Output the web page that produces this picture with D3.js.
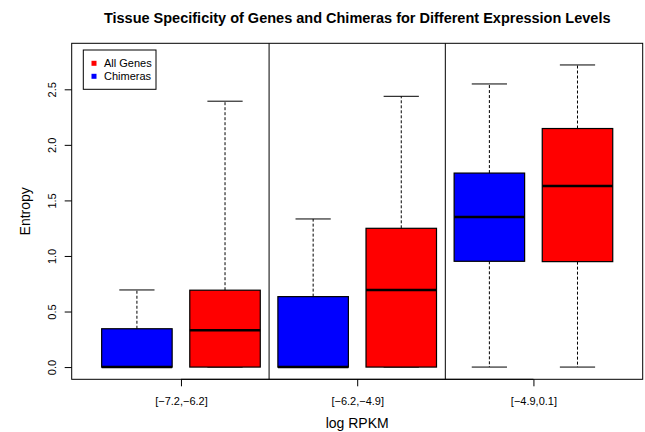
<!DOCTYPE html>
<html>
<head>
<meta charset="utf-8">
<script src="https://cdn.jsdelivr.net/npm/d3@7"></script>
<style>
body { margin: 0; background: #fff; }
text { font-family: "Liberation Sans", Arial, Helvetica, sans-serif; fill: #000; }
</style>
</head>
<body>
<script>
// data
let groups = ["[\u22127.2,\u22126.2]", "[\u22126.2,\u22124.9]", "[\u22124.9,0.1]"]
let seriesNames = ["All Genes", "Chimeras"]
let seriesColors = ["#ff0000", "#0000ff"]
// [lower whisker, q1, median, q3, upper whisker]
let chimeras = [[0, 0, 0, 0.345, 0.694], [0, 0, 0, 0.634, 1.333], [0, 0.952, 1.350, 1.746, 2.548]]
let allGenes = [[0, 0, 0.332, 0.692, 2.393], [0, 0, 0.694, 1.249, 2.437], [0, 0.949, 1.629, 2.147, 2.719]]
let yTicks = [0, 0.5, 1.0, 1.5, 2.0, 2.5]

let w = 645, h = 432
let pLeft = 71.7, pRight = 642.7, pTop = 43.3, pBottom = 379.3

let svg = d3.select("body").append("svg").attr("width", w).attr("height", h)

let xScale = d3.scaleLinear().domain([0.26, 6.74]).range([pLeft, pRight])
let yScale = d3.scaleLinear().domain([-0.11, 2.914]).range([pBottom, pTop])

// boxes: chimeras at odd positions, all genes at even ones
let boxes = []
groups.forEach((g, i) => {
    boxes.push({pos: 2 * i + 1, s: chimeras[i], color: seriesColors[1]})
    boxes.push({pos: 2 * i + 2, s: allGenes[i], color: seriesColors[0]})
})
let bw = 0.8

let bx = svg.selectAll("g.box").data(boxes).enter().append("g").attr("class", "box")
bx.append("line")
    .attr("x1", d => xScale(d.pos)).attr("x2", d => xScale(d.pos))
    .attr("y1", d => yScale(d.s[3])).attr("y2", d => yScale(d.s[4]))
    .attr("stroke", "#000").attr("stroke-dasharray", "3,2")
bx.append("line")
    .attr("x1", d => xScale(d.pos)).attr("x2", d => xScale(d.pos))
    .attr("y1", d => yScale(d.s[1])).attr("y2", d => yScale(d.s[0]))
    .attr("stroke", "#000").attr("stroke-dasharray", "3,2")
bx.selectAll("line.cap").data(d => [d.s[0], d.s[4]].map(v => ({pos: d.pos, v: v})))
    .enter().append("line").attr("class", "cap")
    .attr("x1", d => xScale(d.pos - bw / 4)).attr("x2", d => xScale(d.pos + bw / 4))
    .attr("y1", d => yScale(d.v)).attr("y2", d => yScale(d.v))
    .attr("stroke", "#000")
bx.append("rect")
    .attr("x", d => xScale(d.pos - bw / 2))
    .attr("y", d => yScale(d.s[3]))
    .attr("width", d => xScale(d.pos + bw / 2) - xScale(d.pos - bw / 2))
    .attr("height", d => yScale(d.s[1]) - yScale(d.s[3]))
    .attr("fill", d => d.color).attr("stroke", "#000").attr("stroke-width", 1.2)
bx.append("line")
    .attr("x1", d => xScale(d.pos - bw / 2)).attr("x2", d => xScale(d.pos + bw / 2))
    .attr("y1", d => yScale(d.s[2])).attr("y2", d => yScale(d.s[2]))
    .attr("stroke", "#000").attr("stroke-width", 2.5)

// group separators
svg.selectAll("line.sep").data([2.5, 4.5]).enter().append("line").attr("class", "sep")
    .attr("x1", d => xScale(d)).attr("x2", d => xScale(d))
    .attr("y1", pTop).attr("y2", pBottom).attr("stroke", "#000")

// plot frame
svg.append("rect").attr("x", pLeft).attr("y", pTop)
    .attr("width", pRight - pLeft).attr("height", pBottom - pTop)
    .attr("fill", "none").attr("stroke", "#000")

// y axis
let yAxis = d3.axisLeft(yScale).tickValues(yTicks).tickSizeOuter(0).tickSize(7).tickFormat(d3.format(".1f"))
let gy = svg.append("g").attr("transform", `translate(${pLeft},0)`).call(yAxis)
gy.select(".domain").remove()
gy.selectAll(".tick text").attr("x", 0).attr("y", 0).attr("dy", 0)
    .attr("transform", "translate(-16,0) rotate(-90)").attr("text-anchor", "middle")
    .style("font-size", "11px").style("font-family", "Liberation Sans, Arial, sans-serif")

// x axis
let xAxis = d3.axisBottom(xScale).tickValues([1.5, 3.5, 5.5]).tickSizeOuter(0).tickSize(7)
    .tickFormat((d, i) => groups[i])
let gx = svg.append("g").attr("transform", `translate(0,${pBottom})`).call(xAxis)
gx.select(".domain").attr("d", `M${xScale(1.5)},0H${xScale(5.5)}`)
gx.selectAll(".tick text").attr("y", 0).attr("dy", 0)
    .attr("transform", "translate(0,26)")
    .style("font-size", "11px").style("font-family", "Liberation Sans, Arial, sans-serif")

// titles
svg.append("text").attr("x", (pLeft + pRight) / 2).attr("y", 22.5).attr("text-anchor", "middle")
    .style("font-size", "14.5px").style("font-weight", "bold")
    .text("Tissue Specificity of Genes and Chimeras for Different Expression Levels")
svg.append("text").attr("x", (pLeft + pRight) / 2).attr("y", 428).attr("text-anchor", "middle")
    .style("font-size", "14px").text("log RPKM")
svg.append("text").attr("transform", `translate(29.5,${(pTop + pBottom) / 2}) rotate(-90)`)
    .attr("text-anchor", "middle").style("font-size", "14px").text("Entropy")

// legend
let lg = svg.append("g")
lg.append("rect").attr("x", 83.3).attr("y", 50).attr("width", 72.7).attr("height", 39.3)
    .attr("fill", "#fff").attr("stroke", "#000")
let items = lg.selectAll("g.item").data(seriesNames).enter().append("g").attr("class", "item")
    .attr("transform", (d, i) => `translate(94,${63.3 + i * 13})`)
items.append("rect").attr("x", -2.5).attr("y", -2.5).attr("width", 5).attr("height", 5)
    .attr("fill", (d, i) => seriesColors[i])
items.append("text").attr("x", 10).attr("y", 4).style("font-size", "11px").text(d => d)
</script>
</body>
</html>
